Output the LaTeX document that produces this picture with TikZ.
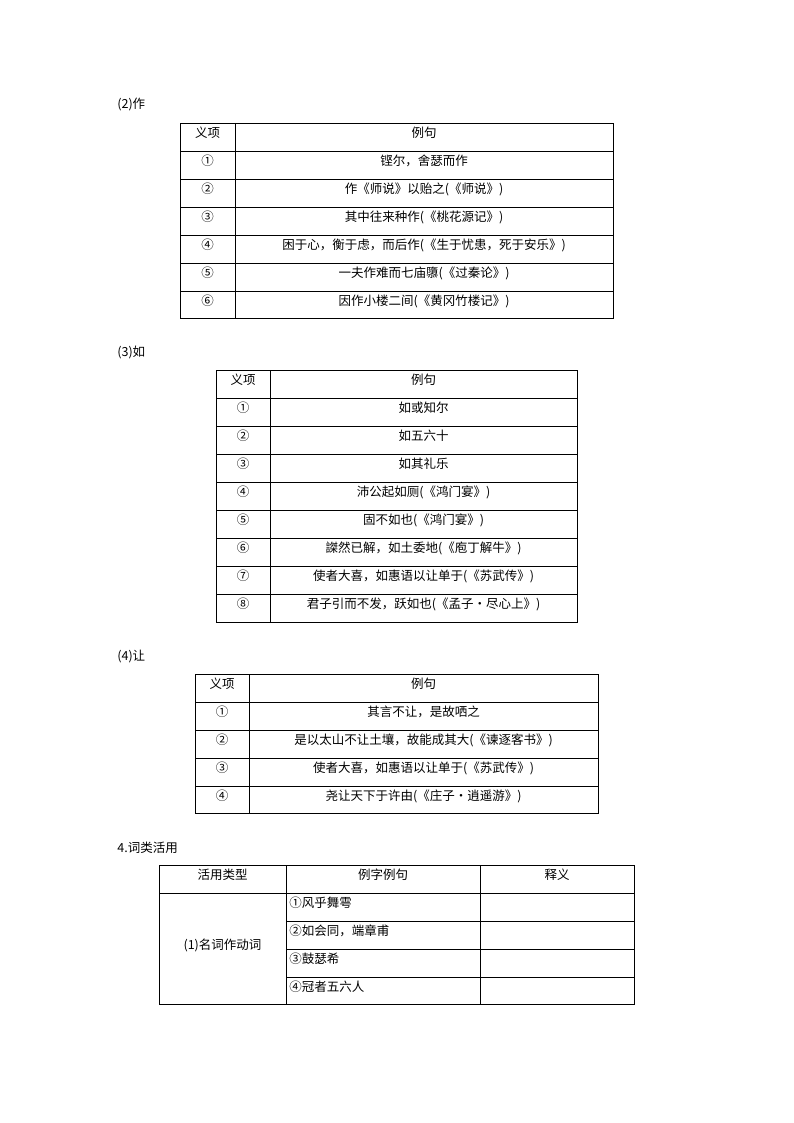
\documentclass[tikz,border=0pt]{standalone}
\usepackage{fontspec}
\setmainfont{Noto Sans CJK SC}
\begin{document}
\begin{tikzpicture}[x=1pt,y=-1pt,line width=0.7pt,
  txt/.style={inner sep=0pt,font=\fontsize{12.5}{14}\selectfont},
  lbl/.style={inner sep=0pt,anchor=west,font=\fontsize{12.5}{14}\selectfont}]
\useasboundingbox (0,0) rectangle (794,1123);
% Table (2)
\node[lbl] (t2) at (117,105) {(2)作};
\draw (180,123) rectangle (613,318) (235,123) -- (235,318);
\foreach \y in {151,179,207,235,263,291} \draw (180,\y) -- (613,\y);
\foreach \i/\a/\b in {0/义项/例句,1/①/铿尔，舍瑟而作,2/②/作《师说》以贻之(《师说》),3/③/其中往来种作(《桃花源记》),4/④/困于心，衡于虑，而后作(《生于忧患，死于安乐》),5/⑤/一夫作难而七庙隳(《过秦论》),6/⑥/因作小楼二间(《黄冈竹楼记》)}
{\node[txt] (a2\i) at (207.5,{133+28*\i}) {\a}; \node[txt] (b2\i) at (424,{133+28*\i}) {\b};}
% Table (3)
\node[lbl] (t3) at (117,352) {(3)如};
\draw (216,370) rectangle (577,622) (270,370) -- (270,622);
\foreach \y in {398,426,454,482,510,538,566,594} \draw (216,\y) -- (577,\y);
\foreach \i/\a/\b in {0/义项/例句,1/①/如或知尔,2/②/如五六十,3/③/如其礼乐,4/④/沛公起如厕(《鸿门宴》),5/⑤/固不如也(《鸿门宴》),6/⑥/謋然已解，如土委地(《庖丁解牛》),7/⑦/使者大喜，如惠语以让单于(《苏武传》),8/⑧/君子引而不发，跃如也(《孟子·尽心上》)}
{\node[txt] (a3\i) at (243,{380+28*\i}) {\a}; \node[txt] (b3\i) at (423.5,{380+28*\i}) {\b};}
% Table (4)
\node[lbl] (t4) at (117,657) {(4)让};
\draw (195,674) rectangle (598,813) (249,674) -- (249,813);
\foreach \y in {702,730,758,786} \draw (195,\y) -- (598,\y);
\foreach \i/\a/\b in {0/义项/例句,1/①/其言不让，是故哂之,2/②/是以太山不让土壤，故能成其大(《谏逐客书》),3/③/使者大喜，如惠语以让单于(《苏武传》),4/④/尧让天下于许由(《庄子·逍遥游》)}
{\node[txt] (a4\i) at (222,{684+28*\i}) {\a}; \node[txt] (b4\i) at (423.5,{684+28*\i}) {\b};}
% Table 4
\node[lbl] (t5) at (117,848) {4.词类活用};
\draw (159,865) rectangle (634,1004) (286,865) -- (286,1004) (480,865) -- (480,1004) (159,893) -- (634,893);
\foreach \y in {921,949,977} \draw (286,\y) -- (634,\y);
\node[txt] (h1) at (222.5,875) {活用类型};
\node[txt] (h2) at (383,875) {例字例句};
\node[txt] (h3) at (557,875) {释义};
\node[txt] (m) at (222.5,945) {(1)名词作动词};
\foreach \i/\b in {0/①风乎舞雩,1/②如会同，端章甫,2/③鼓瑟希,3/④冠者五六人}
{\node[txt,anchor=west] (c\i) at (289,{903+28*\i}) {\b};}
\end{tikzpicture}
\end{document}
